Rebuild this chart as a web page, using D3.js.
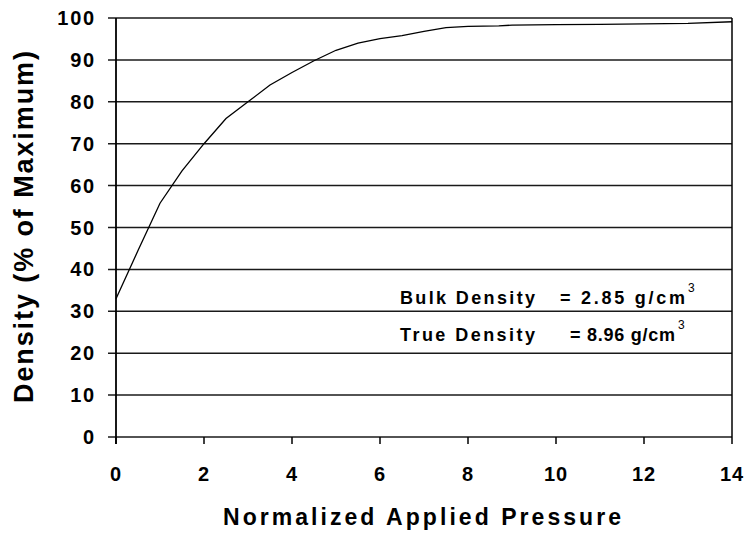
<!DOCTYPE html>
<html>
<head>
<meta charset="utf-8">
<script src="https://cdn.jsdelivr.net/npm/d3@7"></script>
<style>
  html, body { margin: 0; padding: 0; background: #fff; }
  svg { display: block; }
  text { font-family: "Liberation Sans", Arial, sans-serif; font-weight: bold; fill: #000; }
</style>
</head>
<body>
<div id="chart"></div>
<script>
// Data
const pressure = [0, 0.5, 1, 1.5, 2, 2.5, 3, 3.5, 4, 4.5, 5, 5.5, 6, 6.5, 7, 7.5, 8, 8.7, 9, 10, 11, 12, 13, 14];
const density  = [33, 44.5, 55.8, 63.5, 70, 76, 80, 84, 87, 89.8, 92.3, 94, 95.1, 95.8, 96.8, 97.7, 98, 98.1, 98.3, 98.4, 98.5, 98.6, 98.7, 99.1];
const xTicks = [0, 2, 4, 6, 8, 10, 12, 14];
const yTicks = [0, 10, 20, 30, 40, 50, 60, 70, 80, 90, 100];
const xTitle = "Normalized Applied Pressure";
const yTitle = "Density (% of Maximum)";
const notes = [
  { label: "Bulk Density", value: "= 2.85 g/cm", sup: "3" },
  { label: "True Density", value: "= 8.96 g/cm", sup: "3" }
];

const W = 744, H = 535;
const margin = { left: 116, right: 12, top: 18, bottom: 98 };

const svg = d3.select("#chart").append("svg")
  .attr("width", W).attr("height", H);

const x = d3.scaleLinear().domain([0, 14]).range([margin.left, W - margin.right]);
const y = d3.scaleLinear().domain([0, 100]).range([H - margin.bottom, margin.top]);

// Horizontal gridlines (extend left as tick marks)
svg.append("g").selectAll("line").data(yTicks).join("line")
  .attr("x1", x(0) - 8).attr("x2", x(14))
  .attr("y1", d => y(d)).attr("y2", d => y(d))
  .attr("stroke", "#1a1a1a").attr("stroke-width", 1.5);

// Y axis line
svg.append("line")
  .attr("x1", x(0)).attr("x2", x(0))
  .attr("y1", y(100)).attr("y2", y(0) + 7)
  .attr("stroke", "#000").attr("stroke-width", 1.8);

// Right border
svg.append("line")
  .attr("x1", x(14)).attr("x2", x(14))
  .attr("y1", y(100)).attr("y2", y(0))
  .attr("stroke", "#000").attr("stroke-width", 1.5);

// X ticks
svg.append("g").selectAll("line").data(xTicks).join("line")
  .attr("x1", d => x(d)).attr("x2", d => x(d))
  .attr("y1", y(0)).attr("y2", y(0) + 7)
  .attr("stroke", "#000").attr("stroke-width", 1.5);

// Y tick labels
svg.append("g").selectAll("text").data(yTicks).join("text")
  .attr("x", 96).attr("y", d => y(d) + 7)
  .attr("text-anchor", "end")
  .style("font-size", "20px")
  .style("letter-spacing", "1.8px")
  .text(d => d);

// X tick labels
svg.append("g").selectAll("text").data(xTicks).join("text")
  .attr("x", d => x(d)).attr("y", 481)
  .attr("text-anchor", "middle")
  .style("font-size", "20px")
  .style("letter-spacing", "1px")
  .text(d => d);

// Curve
const line = d3.line().x((d, i) => x(pressure[i])).y(d => y(d));
svg.append("path")
  .datum(density)
  .attr("d", line)
  .attr("fill", "none")
  .attr("stroke", "#000")
  .attr("stroke-width", 1.3);

// Axis titles
svg.append("text")
  .attr("x", 223).attr("y", 525)
  .attr("textLength", 398).attr("lengthAdjust", "spacing")
  .style("font-size", "23px")
  .text(xTitle);

svg.append("text")
  .attr("transform", "translate(33,403) rotate(-90)")
  .attr("textLength", 352).attr("lengthAdjust", "spacing")
  .style("font-size", "27px")
  .text(yTitle);

// Annotations
const rowY = [304, 341];
const valX = [560, 570];
const valLen = [125, 105];
notes.forEach((n, i) => {
  svg.append("text")
    .attr("x", 400).attr("y", rowY[i])
    .attr("textLength", 135).attr("lengthAdjust", "spacing")
    .style("font-size", "18px")
    .text(n.label);
  svg.append("text")
    .attr("x", valX[i]).attr("y", rowY[i])
    .attr("textLength", valLen[i]).attr("lengthAdjust", "spacing")
    .style("font-size", "18px")
    .text(n.value);
  svg.append("text")
    .attr("x", valX[i] + valLen[i] + 3).attr("y", rowY[i] - 12)
    .style("font-size", "12px")
    .style("font-weight", "normal")
    .text(n.sup);
});
</script>
</body>
</html>
